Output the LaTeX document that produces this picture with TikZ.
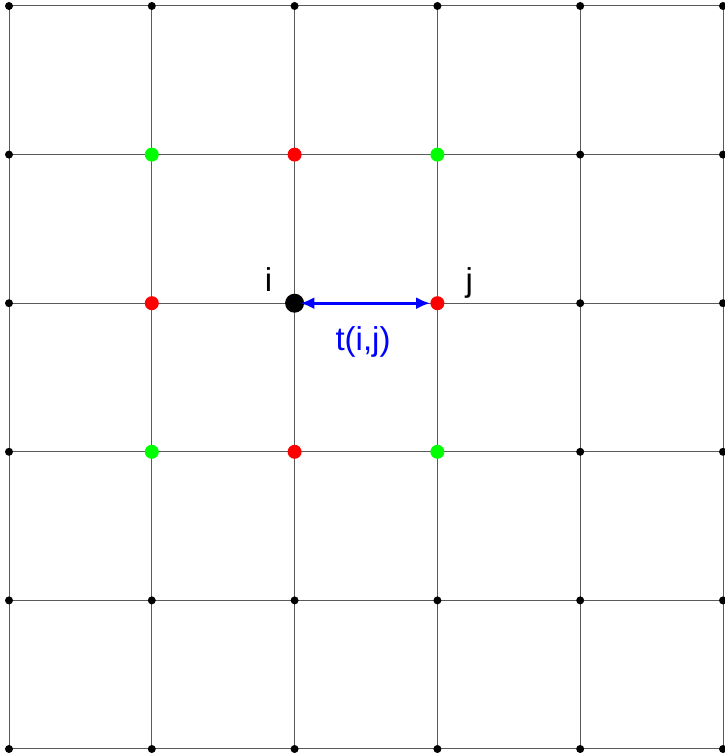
\documentclass[tikz,border=0pt]{standalone}
\usepackage{fontspec}
\setmainfont{Liberation Sans}
\usepackage{tikz}
\usetikzlibrary{arrows.meta, positioning, calc}
\definecolor{gridgray}{RGB}{90,90,90}
\definecolor{hopblue}{RGB}{0,0,255}
\definecolor{nnred}{RGB}{255,0,0}
\definecolor{nnngreen}{RGB}{0,255,0}

\begin{document}
\begin{tikzpicture}[
  x=1pt, y=1pt,
  site/.style={circle, fill=#1, inner sep=0pt, minimum size=8pt},
  nbr/.style={circle, fill=#1, inner sep=0pt, minimum size=14pt},
  lbl/.style={font=\fontsize{33}{38}\selectfont, inner sep=0pt, anchor=base},
  hop/.style={{Latex[length=14pt,width=12pt]}-{Latex[length=14pt,width=12pt]}, line width=3pt, draw=hopblue, shorten <=-4pt}
]
\useasboundingbox (0,0) rectangle (725,756);
% lattice sites
\foreach \c in {0,...,5}
  \foreach \r in {0,...,5}
    \coordinate (p-\c-\r) at (9+142.8*\c, 7+148.6*\r);
% bonds
\foreach \k in {0,...,5} {
  \draw[gridgray, line width=1pt] (p-\k-0) -- (p-\k-5);
  \draw[gridgray, line width=1pt] (p-0-\k) -- (p-5-\k);
}
% plain sites
\foreach \c in {0,...,5}
  \foreach \r in {0,...,5}
    \node[site=black] (s-\c-\r) at (p-\c-\r) {};
% nearest and next-nearest neighbours
\node[nbr=nnred] (n1) at (p-2-4) {};
\node[nbr=nnred] (n2) at (p-1-3) {};
\node[nbr=nnred] (J)  at (p-3-3) {};
\node[nbr=nnred] (n3) at (p-2-2) {};
\node[nbr=nnngreen] (m1) at (p-1-4) {};
\node[nbr=nnngreen] (m2) at (p-3-4) {};
\node[nbr=nnngreen] (m3) at (p-1-2) {};
\node[nbr=nnngreen] (m4) at (p-3-2) {};
\node[circle, fill=black, inner sep=0pt, minimum size=19pt] (I) at (p-2-3) {};
\node[lbl, xshift=-26pt, yshift=12pt] (li) at (I.center) {i};
\node[lbl, xshift=32pt, yshift=12pt] (lj) at (J.center) {j};
\draw[hop] (I) -- (J);
\node[lbl, text=hopblue, xshift=-3pt, yshift=-47pt] (t) at ($(I.center)!0.5!(J.center)$) {t(i,j)};
\end{tikzpicture}
\end{document}
